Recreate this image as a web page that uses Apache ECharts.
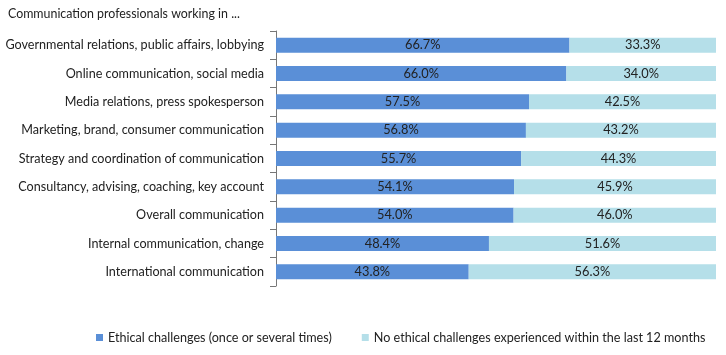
<!DOCTYPE html>
<html><head><meta charset="utf-8">
<script src="https://cdn.jsdelivr.net/npm/echarts@6/dist/echarts.min.js"></script>
<style>html,body{margin:0;padding:0;background:#fff}#c{width:726px;height:355px}</style>
</head><body><div id="c"></div>
<script>
const categories = [
  "Governmental relations, public affairs, lobbying",
  "Online communication, social media",
  "Media relations, press spokesperson",
  "Marketing, brand, consumer communication",
  "Strategy and coordination of communication",
  "Consultancy, advising, coaching, key account",
  "Overall communication",
  "Internal communication, change",
  "International communication"
];
const ethical = [66.7, 66.0, 57.5, 56.8, 55.7, 54.1, 54.0, 48.4, 43.8];
const noEthical = [33.3, 34.0, 42.5, 43.2, 44.3, 45.9, 46.0, 51.6, 56.3];
const seriesNames = ["Ethical challenges (once or several times)", "No ethical challenges experienced within the last 12 months"];
const titleText = "Communication professionals working in ...";

const font = "Lato, 'Liberation Sans', sans-serif";
const chart = echarts.init(document.getElementById('c'));
const lbl = {show: true, position: 'inside', color: '#222', fontSize: 12.8, fontFamily: font, formatter: p => p.value.toFixed(1) + '%'};
chart.setOption({
  animation: false,
  title: {text: titleText, left: 3, top: 3, textStyle: {fontSize: 12.4, fontWeight: 'normal', color: '#222', fontFamily: font}},
  legend: {bottom: 6, left: 91, width: 640, itemWidth: 7, itemHeight: 7, itemGap: 30, icon: 'rect',
    textStyle: {fontSize: 12.6, color: '#222', fontFamily: font}},
  grid: {left: 276, right: 10, top: 31, bottom: 69, containLabel: false},
  xAxis: {type: 'value', min: 0, max: 100, show: false},
  yAxis: {type: 'category', data: categories, inverse: true,
    axisLine: {show: true, lineStyle: {color: '#777'}},
    axisTick: {show: true, interval: 0, inside: false, length: 6, lineStyle: {color: '#777', width: 1}},
    axisLabel: {color: '#222', fontSize: 12.6, fontFamily: font, margin: 12}},
  series: [
    {name: seriesNames[0], type: 'bar', stack: 's', data: ethical, barWidth: 15, itemStyle: {color: '#5a8fd7'}, label: lbl},
    {name: seriesNames[1], type: 'bar', stack: 's', data: noEthical, barWidth: 15, itemStyle: {color: '#b5dfe9'}, label: lbl}
  ]
});
</script></body></html>
